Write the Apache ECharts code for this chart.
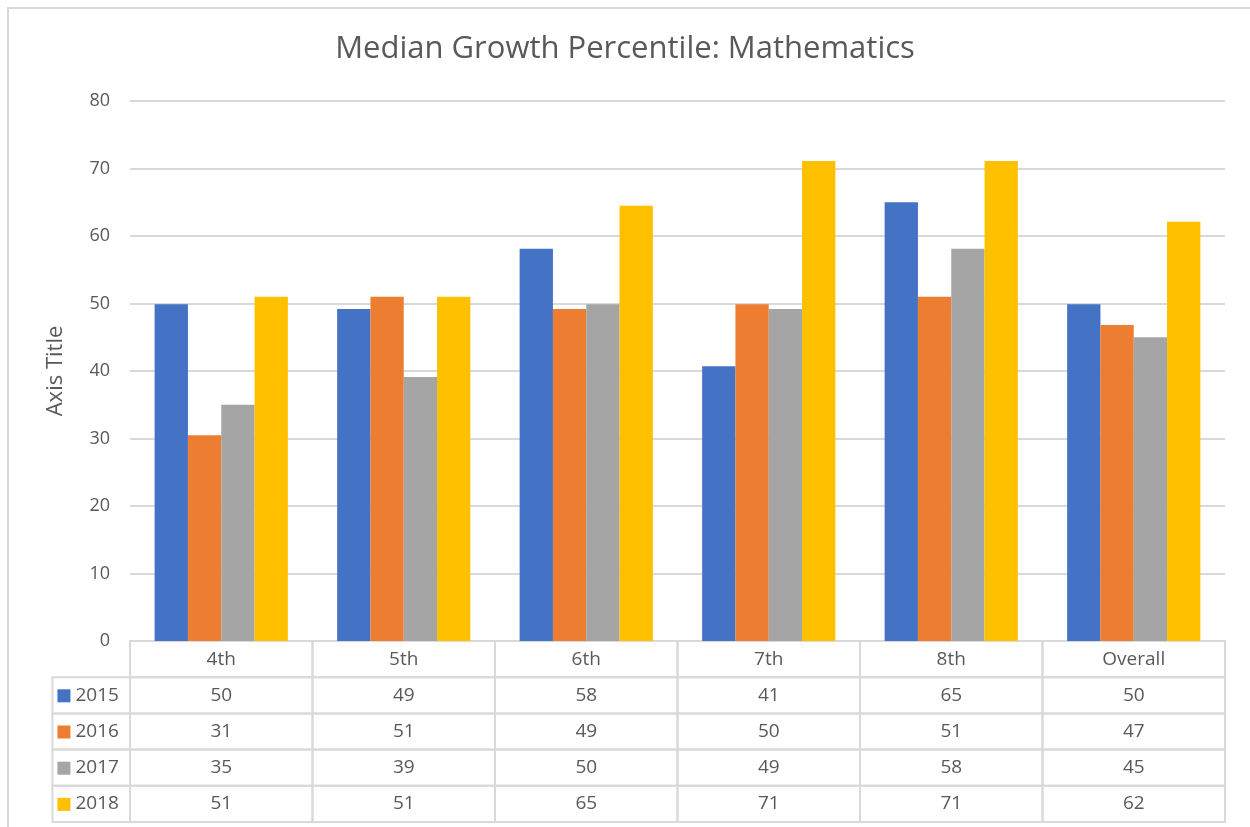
<!DOCTYPE html>
<html>
<head>
<meta charset="utf-8">
<title>Median Growth Percentile: Mathematics</title>
<script src="https://cdn.jsdelivr.net/npm/echarts@6/dist/echarts.min.js"></script>
<style>
  html, body { margin: 0; padding: 0; background: #fff; }
  #main { width: 1250px; height: 827px; }
</style>
</head>
<body>
<div id="main"></div>
<script>
// 数据
var categories = ["4th", "5th", "6th", "7th", "8th", "Overall"];
var years = ["2015", "2016", "2017", "2018"];
var colors = ["#4472C4", "#ED7D31", "#A5A5A5", "#FFC000"];

// bar heights
var v2015 = [49.9, 49.2, 58.1, 40.7, 65.0, 49.9];
var v2016 = [30.5, 51.0, 49.2, 49.9, 51.0, 46.8];
var v2017 = [35.0, 39.1, 49.9, 49.2, 58.1, 45.0];
var v2018 = [51.0, 51.0, 64.5, 71.1, 71.1, 62.1];

// numbers printed in the data table
var t2015 = [50, 49, 58, 41, 65, 50];
var t2016 = [31, 51, 49, 50, 51, 47];
var t2017 = [35, 39, 50, 49, 58, 45];
var t2018 = [51, 51, 65, 71, 71, 62];

var barValues = [v2015, v2016, v2017, v2018];
var tableValues = [t2015, t2016, t2017, t2018];

var font = "Open Sans";
var textColor = "#595959";
var lineColor = "#d9d9d9";

var myChart = echarts.init(document.getElementById("main"));

// 表格单元格: [列, 行]，第 0 行是表头
var cells = [];
var cellText = [];
for (var r = 0; r <= years.length; r++) {
  for (var c = 0; c < categories.length; c++) {
    cells.push([c, r]);
    cellText.push(r === 0 ? categories[c] : String(tableValues[r - 1][c]));
  }
}

function renderCell(params, api) {
  var c = api.value(0);
  var r = api.value(1);
  var pt = api.coord([c, r]);
  var sz = api.size([1, 1]);
  var w = sz[0], h = sz[1];
  var children = [
    {
      type: "rect",
      shape: { x: pt[0] - w / 2, y: pt[1] - h / 2, width: w, height: h },
      style: { fill: "none", stroke: lineColor, lineWidth: 2 }
    },
    {
      type: "text",
      x: pt[0],
      y: pt[1],
      style: {
        text: cellText[params.dataIndex],
        fill: textColor,
        font: "19px '" + font + "'",
        align: "center",
        verticalAlign: "middle"
      }
    }
  ];
  // 左侧图例列
  if (c === 0 && r > 0) {
    var lw = w * 0.425;
    var x0 = pt[0] - w / 2 - lw;
    children.push({
      type: "rect",
      shape: { x: x0, y: pt[1] - h / 2, width: lw, height: h },
      style: { fill: "none", stroke: lineColor, lineWidth: 2 }
    });
    children.push({
      type: "rect",
      shape: { x: x0 + 5, y: pt[1] - 6, width: 13, height: 13 },
      style: { fill: colors[r - 1] }
    });
    children.push({
      type: "text",
      x: x0 + 23,
      y: pt[1],
      style: {
        text: years[r - 1],
        fill: textColor,
        font: "19px '" + font + "'",
        align: "left",
        verticalAlign: "middle"
      }
    });
  }
  return { type: "group", children: children };
}

var series = years.map(function (y, i) {
  return {
    name: y,
    type: "bar",
    xAxisIndex: 0,
    yAxisIndex: 0,
    barGap: "0%",
    barCategoryGap: "27%",
    itemStyle: { color: colors[i] },
    data: barValues[i]
  };
});

series.push({
  type: "custom",
  xAxisIndex: 1,
  yAxisIndex: 1,
  silent: true,
  clip: false,
  renderItem: renderCell,
  encode: { x: 0, y: 1 },
  data: cells
});

var option = {
  animation: false,
  backgroundColor: "#fff",
  textStyle: { fontFamily: font },
  title: {
    text: "Median Growth Percentile: Mathematics",
    left: "center",
    top: 29,
    textStyle: {
      fontFamily: font,
      fontSize: 31,
      fontWeight: "normal",
      color: textColor
    }
  },
  graphic: [
    {
      type: "rect",
      silent: true,
      z: -1,
      shape: { x: 8, y: 8, width: 1300, height: 900 },
      style: { fill: "none", stroke: lineColor, lineWidth: 2 }
    }
  ],
  grid: [
    { left: 130, right: 25, top: 101, height: 540 },
    { left: 130, right: 25, top: 641, height: 181 }
  ],
  xAxis: [
    {
      type: "category",
      gridIndex: 0,
      data: categories,
      axisLine: { lineStyle: { color: lineColor, width: 2 } },
      axisTick: { show: false },
      axisLabel: { show: false }
    },
    {
      type: "category",
      gridIndex: 1,
      data: categories,
      axisLine: { show: false },
      axisTick: { show: false },
      axisLabel: { show: false },
      splitLine: { show: false }
    }
  ],
  yAxis: [
    {
      type: "value",
      gridIndex: 0,
      min: 0,
      max: 80,
      interval: 10,
      name: "Axis Title",
      nameLocation: "middle",
      nameRotate: 90,
      nameGap: 63,
      nameTextStyle: { color: textColor, fontSize: 22, fontFamily: font },
      axisLine: { show: false },
      axisTick: { show: false },
      axisLabel: { color: textColor, fontSize: 18, margin: 20, fontFamily: font },
      splitLine: { lineStyle: { color: lineColor, width: 2 } }
    },
    {
      type: "category",
      gridIndex: 1,
      inverse: true,
      data: [""].concat(years),
      axisLine: { show: false },
      axisTick: { show: false },
      axisLabel: { show: false },
      splitLine: { show: false }
    }
  ],
  series: series
};

myChart.setOption(option);
</script>
</body>
</html>
